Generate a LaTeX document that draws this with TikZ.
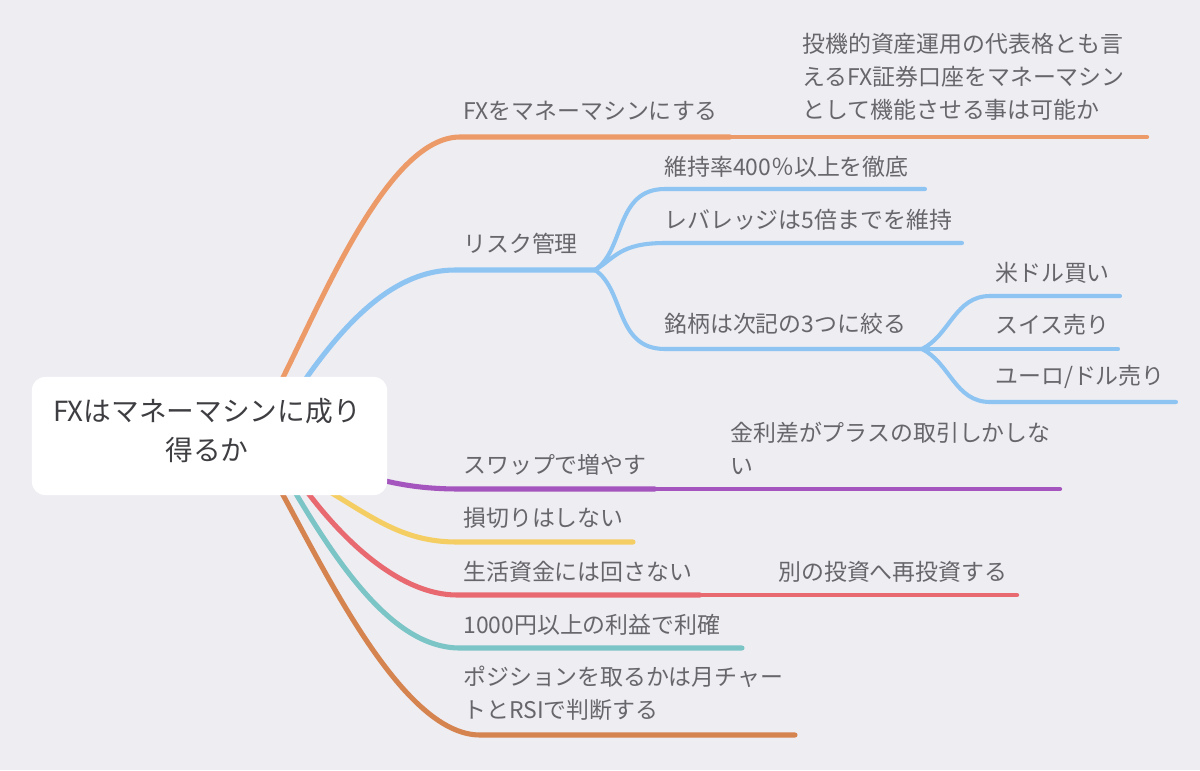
\documentclass[tikz,border=0pt]{standalone}
\usepackage{fontspec}
\setmainfont{Noto Sans CJK JP}
\definecolor{bg}{HTML}{EEEDF2}
\definecolor{txt}{HTML}{66666B}
\definecolor{roottxt}{HTML}{3E3E42}
\definecolor{corange}{HTML}{EC9A67}
\definecolor{cblue}{HTML}{8DC4F2}
\definecolor{cpurple}{HTML}{A455BE}
\definecolor{cyellow}{HTML}{F5CE63}
\definecolor{cred}{HTML}{E86A70}
\definecolor{cteal}{HTML}{7BC5C7}
\definecolor{cbrown}{HTML}{D5834F}
\begin{document}
\begin{tikzpicture}[x=0.025cm,y=-0.025cm,
  lbl/.style={anchor=west,inner sep=0pt,text=txt,font=\fontsize{16.3}{23.4}\selectfont,align=left},
  br/.style={line width=3.6pt,line cap=round},
  brthin/.style={line width=3pt,line cap=round},
  sb/.style={line width=2.9pt,line cap=round},
  rootbox/.style={fill=white,draw=none,rounded corners=0.33cm,minimum width=8.875cm,minimum height=2.95cm,inner sep=0pt},
  roottext/.style={text=roottxt,font=\fontsize{19.7}{28.2}\selectfont,align=center,inner sep=0pt}]

\useasboundingbox[fill=bg] (0,0) rectangle (1200,770);

% orange branch
\coordinate (o0) at (272,399);
\coordinate (o1) at (460,137);
\coordinate (o2) at (730,137);
\coordinate (o3) at (1147,137);
\draw[br,corange] (o0) .. controls (317,314) and (385,137) .. (o1) -- (o2);
\draw[brthin,corange] (o2) -- (o3);

% blue branch
\coordinate (b0) at (296,393);
\coordinate (b1) at (455,270);
\coordinate (bj) at (595,270);
\draw[br,cblue] (b0) .. controls (345,320) and (395,270) .. (b1) -- (bj);
\coordinate (s1) at (665,189);
\coordinate (s1e) at (925,189);
\draw[sb,cblue] (bj) .. controls (625,250) and (615,189) .. (s1) -- (s1e);
\coordinate (s2) at (665,243);
\coordinate (s2e) at (962,243);
\draw[sb,cblue] (bj) .. controls (615,258) and (620,243) .. (s2) -- (s2e);
\coordinate (s3) at (665,349);
\coordinate (cj) at (922,349);
\draw[sb,cblue] (bj) .. controls (625,290) and (615,349) .. (s3) -- (cj);
\coordinate (t1) at (990,296);
\coordinate (t1e) at (1120,296);
\draw[sb,cblue] (cj) .. controls (950,335) and (955,296) .. (t1) -- (t1e);
\coordinate (t2e) at (1118,349);
\draw[sb,cblue] (cj) -- (t2e);
\coordinate (t3) at (990,402);
\coordinate (t3e) at (1176,402);
\draw[sb,cblue] (cj) .. controls (950,363) and (955,402) .. (t3) -- (t3e);

% purple
\coordinate (p0) at (350,472);
\coordinate (p1) at (460,489);
\coordinate (p2) at (655,489);
\coordinate (p3) at (1060,489);
\draw[br,cpurple] (p0) .. controls (385,481) and (410,489) .. (p1) -- (p2);
\draw[brthin,cpurple] (p2) -- (p3);

% yellow
\coordinate (y0) at (315,483);
\coordinate (y1) at (457,542);
\coordinate (y2) at (633,542);
\draw[br,cyellow] (y0) .. controls (370,515) and (400,542) .. (y1) -- (y2);

% red
\coordinate (r0) at (295,475);
\coordinate (r1) at (457,595);
\coordinate (r2) at (700,595);
\coordinate (r3) at (1017,595);
\draw[br,cred] (r0) .. controls (340,540) and (400,595) .. (r1) -- (r2);
\draw[brthin,cred] (r2) -- (r3);

% teal
\coordinate (g0) at (285,475);
\coordinate (g1) at (460,648);
\coordinate (g2) at (742,648);
\draw[br,cteal] (g0) .. controls (340,570) and (395,648) .. (g1) -- (g2);

% brown
\coordinate (w0) at (272,475);
\coordinate (w1) at (480,735);
\coordinate (w2) at (795,735);
\draw[br,cbrown] (w0) .. controls (320,560) and (400,735) .. (w1) -- (w2);

% root
\node[rootbox] (root) at (209.5,436) {};
\node[roottext] (roottxt) at (207,430.5) {FXはマネーマシンに成り\\得るか};

% labels
\node[lbl] (l1) at (463,111) {FXをマネーマシンにする};
\node[lbl] (n1) at (802,77) {投機的資産運用の代表格とも言\\えるFX証券口座をマネーマシン\\として機能させる事は可能か};
\node[lbl] (l2) at (463,244) {リスク管理};
\node[lbl] (l21) at (664,167) {維持率400％以上を徹底};
\node[lbl] (l22) at (664,220) {レバレッジは5倍までを維持};
\node[lbl] (l23) at (664,324) {銘柄は次記の3つに絞る};
\node[lbl] (l231) at (995,273) {米ドル買い};
\node[lbl] (l232) at (995,325) {スイス売り};
\node[lbl] (l233) at (995,377) {ユーロ/ドル売り};
\node[lbl] (l3) at (463,465) {スワップで増やす};
\node[lbl] (n3) at (730,448) {金利差がプラスの取引しかしな\\い};
\node[lbl] (l4) at (463,518) {損切りはしない};
\node[lbl] (l5) at (463,572) {生活資金には回さない};
\node[lbl] (n5) at (778,572) {別の投資へ再投資する};
\node[lbl] (l6) at (463,625) {1000円以上の利益で利確};
\node[lbl] (l7) at (463,693) {ポジションを取るかは月チャー\\トとRSIで判断する};
\end{tikzpicture}
\end{document}
